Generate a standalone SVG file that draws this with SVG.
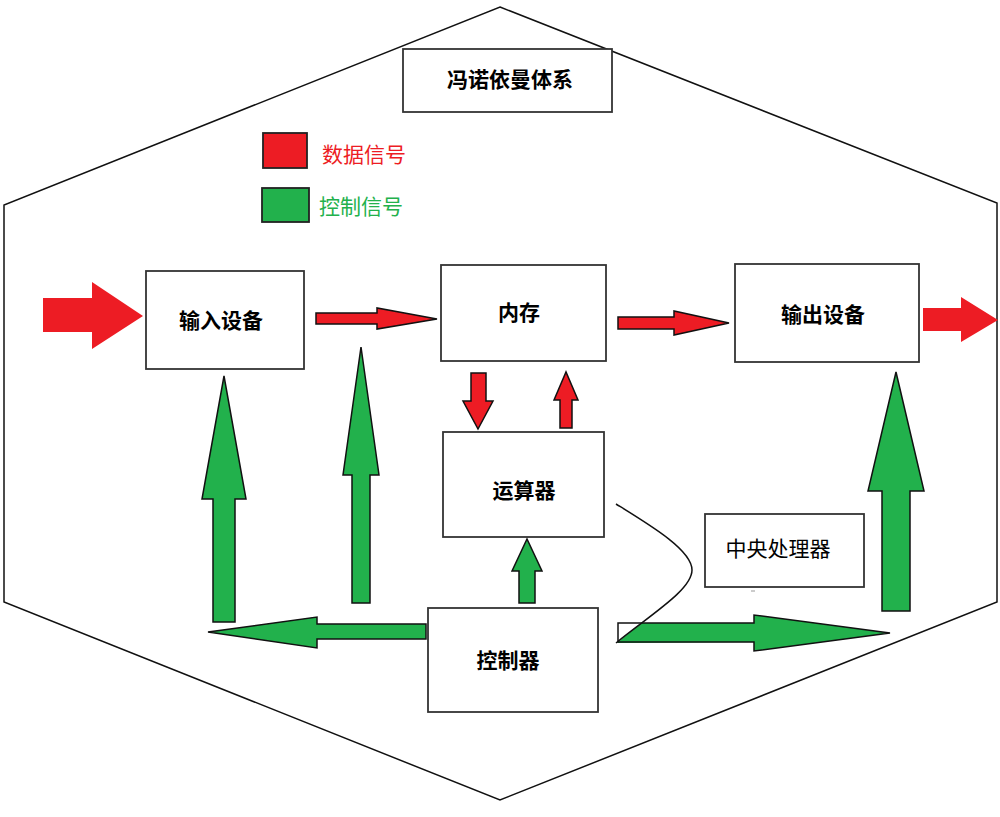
<svg xmlns="http://www.w3.org/2000/svg" width="1000" height="817" viewBox="0 0 1000 817">
<style>
.box{fill:#fff;stroke:#333;stroke-width:1.8}
.lbl{font-family:"Noto Sans CJK SC","Liberation Sans",sans-serif;font-size:21px;font-weight:bold;fill:#000;text-anchor:middle;dominant-baseline:central}
.reg{font-family:"Noto Sans CJK SC","Liberation Sans",sans-serif;font-size:21px;dominant-baseline:central}
.red{fill:#ED1C24;stroke:#111;stroke-width:1.5;stroke-linejoin:miter}
.grn{fill:#22B14C;stroke:#111;stroke-width:1.5;stroke-linejoin:miter}
</style>
<rect width="1000" height="817" fill="#fff"/>
<polygon id="frame" points="500,7 997,203 997,602 500,800 4,602 4,205" fill="none" stroke="#111" stroke-width="1.5"/>
<g id="title"><rect class="box" x="403" y="49" width="209" height="63"/><text class="lbl" x="510" y="78">冯诺依曼体系</text></g>
<g id="legend">
<rect x="263" y="133" width="44" height="35" fill="#ED1C24" stroke="#222" stroke-width="1.8"/>
<text class="reg" x="322" y="153" fill="#ED1C24">数据信号</text>
<rect x="262" y="188" width="47" height="34" fill="#22B14C" stroke="#222" stroke-width="1.8"/>
<text class="reg" x="319" y="205" fill="#22B14C">控制信号</text>
</g>
<g id="input"><rect class="box" x="146" y="271" width="158" height="98"/><text class="lbl" x="221" y="319">输入设备</text></g>
<g id="memory"><rect class="box" x="441" y="265" width="165" height="96"/><text class="lbl" x="519" y="311">内存</text></g>
<g id="output"><rect class="box" x="735" y="264" width="184" height="98"/><text class="lbl" x="823" y="313">输出设备</text></g>
<g id="alu"><rect class="box" x="443" y="432" width="161" height="105"/><text class="lbl" x="524" y="489">运算器</text></g>
<g id="cpu"><rect class="box" x="705" y="514" width="159" height="73"/><text class="reg" x="778" y="547" text-anchor="middle" fill="#000">中央处理器</text></g>
<g id="controller"><rect class="box" x="428" y="608" width="170" height="104"/><text class="lbl" x="508" y="659">控制器</text></g>
<g id="connectors">
<polygon points="43,298 92,298 92,282 143,316 92,349 92,332 43,332" fill="#ED1C24"/>
<polygon class="red" points="316,313 377,313 377,308 437,319 377,329 377,324 316,324"/>
<polygon class="red" points="618,317 674,317 674,311 729,323 674,335 674,329 618,329"/>
<polygon points="923,308 961,308 961,297 998,320 961,342 961,331 923,331" fill="#ED1C24"/>
<polygon class="red" points="471,373 486,373 486,401 493,401 478,429 463,401 471,401"/>
<polygon class="red" points="560,428 572,428 572,400 578,400 566,372 554,400 560,400"/>
<polygon class="grn" points="213,622 235,622 235,499 246,499 224,376 202,499 213,499"/>
<polygon class="grn" points="352,603 370,603 370,475 379,475 361,347 343,475 352,475"/>
<polygon class="grn" points="882,611 910,611 910,491 924,491 896,372 868,491 882,491"/>
<polygon class="grn" points="519,603 535,603 535,571 542,571 527,539 512,571 519,571"/>
<polygon class="grn" points="426,624 426,639 317,639 317,648 208,632 317,617 317,624"/>
<polygon points="617,643 641,623 754,623 754,615 890,633 754,651 754,642" fill="#22B14C"/>
<polygon points="618,623 754,623 754,615 890,633 754,651 754,642 618,642" fill="none" stroke="#111" stroke-width="1.5"/>
<path d="M616,504 C650,525 692,550 692,570 C692,590 650,615 616,643" fill="none" stroke="#111" stroke-width="1.5"/>
<line x1="751" y1="591" x2="755" y2="591" stroke="#999" stroke-width="1"/>
</g>
</svg>
